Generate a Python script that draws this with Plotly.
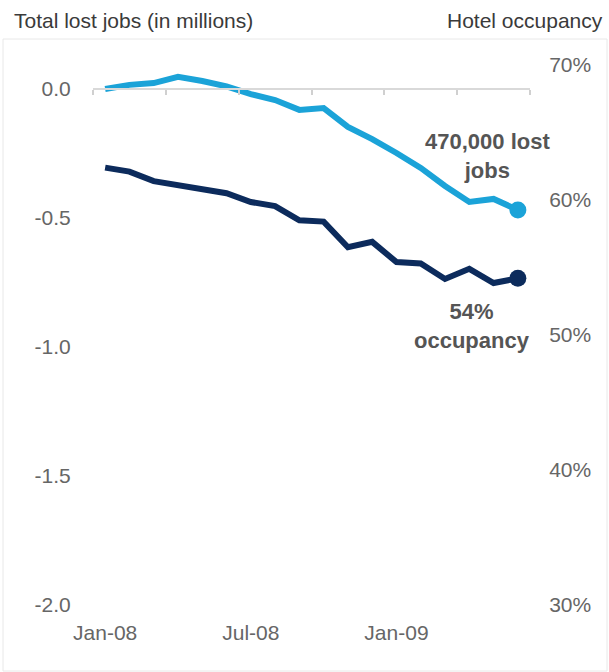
import plotly.graph_objects as go

# ---- data ----
months = ["Jan-08", "Feb-08", "Mar-08", "Apr-08", "May-08", "Jun-08",
          "Jul-08", "Aug-08", "Sep-08", "Oct-08", "Nov-08", "Dec-08",
          "Jan-09", "Feb-09", "Mar-09", "Apr-09", "May-09", "Jun-09"]
lost_jobs = [0.0, 0.016, 0.023, 0.047, 0.031, 0.01,
             -0.02, -0.043, -0.081, -0.074, -0.147, -0.194,
             -0.248, -0.306, -0.376, -0.438, -0.426, -0.469]
occupancy = [62.4, 62.1, 61.4, 61.1, 60.8, 60.5,
             59.85, 59.55, 58.5, 58.4, 56.5, 56.9,
             55.4, 55.3, 54.15, 54.9, 53.85, 54.2]
x_tick_labels = ["Jan-08", "Jul-08", "Jan-09"]
left_ticks = [0.0, -0.5, -1.0, -1.5, -2.0]
left_tick_text = ["0.0", "-0.5", "-1.0", "-1.5", "-2.0"]
right_ticks = [30, 40, 50, 60, 70]
right_tick_text = ["30%", "40%", "50%", "60%", "70%"]

# ---- layout geometry ----
W, H = 609, 672
ML, MR, MT, MB = 93, 79, 65, 67
PW, PH = W - ML - MR, H - MT - MB
left_range = [-2.0, 0.093]
right_range = [30, 70]

LIGHT = "#1ba3d8"
DARK = "#0c2b5c"
FONT = "Liberation Sans, Arial, sans-serif"
TICK_COLOR = "#666666"


def px_x(p):
    return (p - ML) / PW


def px_y(p):
    return (H - MB - p) / PH


fig = go.Figure()

fig.add_trace(go.Scatter(
    x=months, y=lost_jobs, mode="lines", yaxis="y",
    line=dict(color=LIGHT, width=6, shape="linear"), showlegend=False,
    hoverinfo="skip"))
fig.add_trace(go.Scatter(
    x=months, y=occupancy, mode="lines", yaxis="y2",
    line=dict(color=DARK, width=6), showlegend=False, hoverinfo="skip"))
# end markers
fig.add_trace(go.Scatter(
    x=[months[-1]], y=[lost_jobs[-1]], mode="markers", yaxis="y",
    marker=dict(color=LIGHT, size=17), showlegend=False, hoverinfo="skip"))
fig.add_trace(go.Scatter(
    x=[months[-1]], y=[occupancy[-1]], mode="markers", yaxis="y2",
    marker=dict(color=DARK, size=17), showlegend=False, hoverinfo="skip"))
# helper empty trace for the zero-line axis
fig.add_trace(go.Scatter(x=[], y=[], xaxis="x2", yaxis="y",
                         showlegend=False, hoverinfo="skip"))

zero_pos = (0 - left_range[0]) / (left_range[1] - left_range[0])

fig.update_layout(
    width=W, height=H,
    margin=dict(l=ML, r=MR, t=MT, b=MB),
    paper_bgcolor="white", plot_bgcolor="white",
    font=dict(family=FONT, size=21, color=TICK_COLOR),
    xaxis=dict(
        type="category", range=[-0.5, len(months) - 0.5],
        tickmode="array", tickvals=x_tick_labels, ticktext=x_tick_labels,
        showgrid=False, showline=False, zeroline=False,
        ticks="outside", ticklen=9, tickcolor="rgba(0,0,0,0)",
        tickfont=dict(family=FONT, size=21, color=TICK_COLOR),
    ),
    xaxis2=dict(
        overlaying="x", anchor="free", position=zero_pos,
        range=[-0.5, len(months) - 0.5], tickmode="linear",
        tick0=-0.5, dtick=3, showticklabels=False,
        showline=True, linecolor="#d9d9d9", linewidth=1.5,
        ticks="outside", ticklen=5, tickcolor="#d0d0d0", tickwidth=1.5,
        showgrid=False, zeroline=False,
    ),
    yaxis=dict(
        range=left_range, tickmode="array", tickvals=left_ticks,
        ticktext=left_tick_text, showgrid=False, zeroline=False,
        showline=False, ticks="outside", ticklen=17,
        tickcolor="rgba(0,0,0,0)",
        tickfont=dict(family=FONT, size=21, color=TICK_COLOR),
    ),
    yaxis2=dict(
        overlaying="y", side="right", range=right_range,
        tickmode="array", tickvals=right_ticks, ticktext=right_tick_text,
        showgrid=False, zeroline=False, showline=False,
        ticks="outside", ticklen=14, tickcolor="rgba(0,0,0,0)",
        tickfont=dict(family=FONT, size=21, color=TICK_COLOR),
    ),
)

# axis titles
fig.add_annotation(text="Total lost jobs (in millions)", xref="paper",
                   yref="paper", x=px_x(12), y=px_y(20), xanchor="left",
                   yanchor="middle", showarrow=False,
                   font=dict(family=FONT, size=21, color="#3a3a3a"))
fig.add_annotation(text="Hotel occupancy", xref="paper", yref="paper",
                   x=px_x(605), y=px_y(20), xanchor="right",
                   yanchor="middle", showarrow=False,
                   font=dict(family=FONT, size=21, color="#3a3a3a"))

# end labels
fig.add_annotation(text="<b>470,000 lost<br>jobs</b>", x=months[-1],
                   y=lost_jobs[-1], yref="y", showarrow=False,
                   xshift=-30, yshift=54, align="center",
                   font=dict(family=FONT, size=22, color="#555555"))
fig.add_annotation(text="<b>54%<br>occupancy</b>", x=months[-1],
                   y=occupancy[-1], yref="y2", showarrow=False,
                   xshift=-46, yshift=-48, align="center",
                   font=dict(family=FONT, size=22, color="#555555"))

# faint frame
fig.add_shape(type="rect", xref="paper", yref="paper",
              x0=px_x(3), x1=px_x(607), y0=px_y(671), y1=px_y(39),
              line=dict(color="#e8e8e8", width=1), layer="below")

fig.write_html("out.html", config={"displayModeBar": False})

# remove the default page margin so the figure sits at the window origin
with open("out.html", "r", encoding="utf-8") as f:
    html = f.read()
html = html.replace("<head>", "<head><style>html,body{margin:0;padding:0;overflow:hidden;}</style>", 1)
with open("out.html", "w", encoding="utf-8") as f:
    f.write(html)
